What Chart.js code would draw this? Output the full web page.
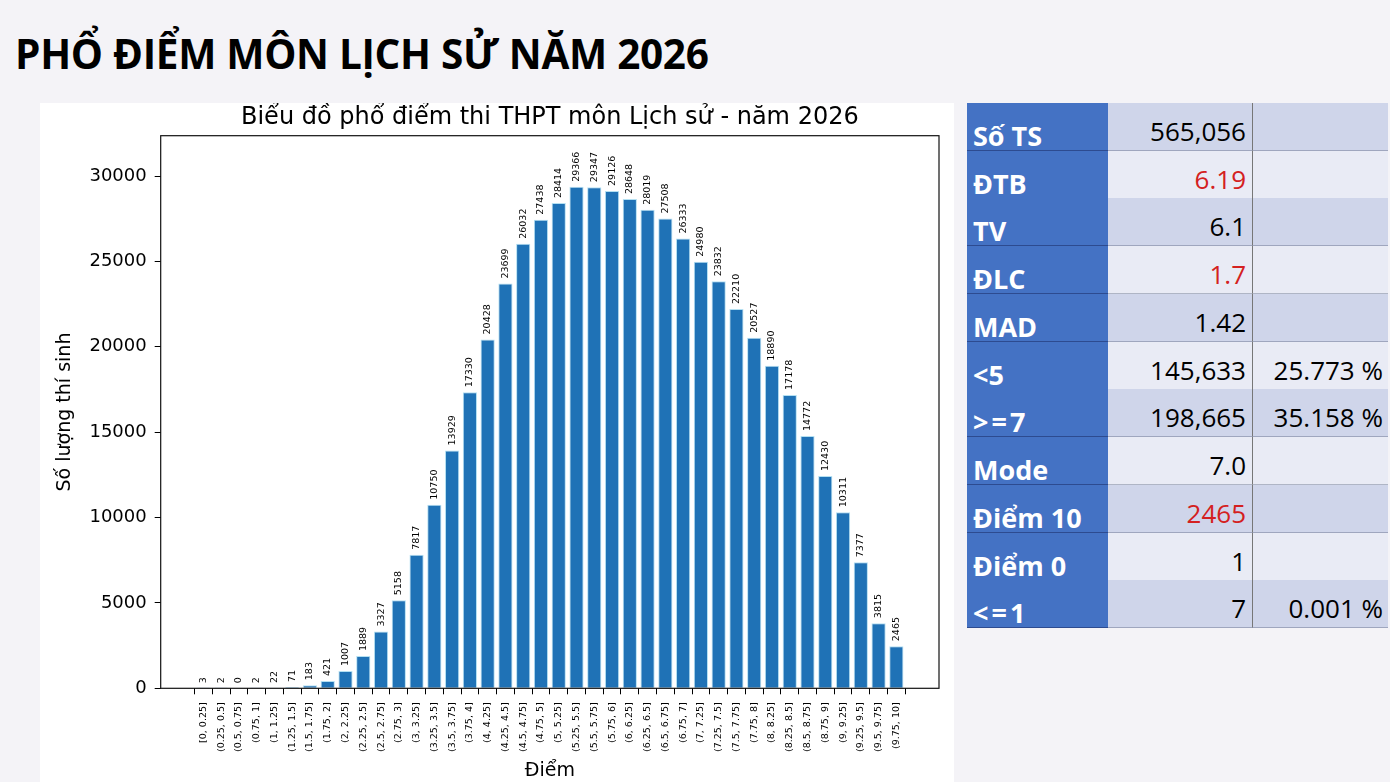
<!DOCTYPE html>
<html>
<head>
<meta charset="utf-8">
<script src="https://cdn.jsdelivr.net/npm/chart.js@4/dist/chart.umd.min.js"></script>
<style>
  html, body { margin: 0; padding: 0; }
  body { width: 1390px; height: 782px; background: #f4f3f7; position: relative; overflow: hidden; font-family: 'Open Sans', 'Noto Sans', sans-serif; }
  #pageTitle { position: absolute; left: 15px; top: 28px; font-family: 'Open Sans', sans-serif; font-weight: 700; font-size: 40.5px; line-height: 52px; color: #000; letter-spacing: -0.3px; white-space: nowrap; }
  #panel { position: absolute; left: 40px; top: 103px; width: 914px; height: 679px; background: #fff; }
  #table { position: absolute; left: 967px; top: 103px; width: 421px; }
  .row { position: absolute; left: 0; width: 421px; height: 48px; }
  .cell { position: absolute; top: 0; height: 47px; border-bottom: 1px solid rgba(70,80,110,0.35); box-sizing: content-box; white-space: nowrap; }
  .c1 { left: 0; width: 141px; background: #4472c4; color: #fff; font-weight: 700; font-size: 27px; border-bottom-color: rgba(30,50,110,0.6); }
  .c2 { left: 141px; width: 144px; border-right: 1px solid #777; font-size: 26px; color: #000; text-align: right; }
  .c3 { left: 286px; width: 135px; font-size: 26px; color: #000; text-align: right; }
  .c1 span { position: absolute; left: 6px; bottom: -4px; }
  .c1 span.sp { letter-spacing: 3px; }
  .c2 span { position: absolute; right: 6px; bottom: 1px; }
  .c3 span { position: absolute; right: 5px; bottom: 1px; }
  .dark .c2, .dark .c3 { background: #cfd5ea; }
  .light .c2, .light .c3 { background: #e9ebf5; }
</style>
</head>
<body>
<div id="pageTitle">PHỔ ĐIỂM MÔN LỊCH SỬ NĂM 2026</div>
<div id="panel"><canvas id="chart"></canvas></div>
<div id="table"></div>
<script>
// ---- data ----
const categories = ["[0, 0.25]", "(0.25, 0.5]", "(0.5, 0.75]", "(0.75, 1]", "(1, 1.25]", "(1.25, 1.5]", "(1.5, 1.75]", "(1.75, 2]", "(2, 2.25]", "(2.25, 2.5]", "(2.5, 2.75]", "(2.75, 3]", "(3, 3.25]", "(3.25, 3.5]", "(3.5, 3.75]", "(3.75, 4]", "(4, 4.25]", "(4.25, 4.5]", "(4.5, 4.75]", "(4.75, 5]", "(5, 5.25]", "(5.25, 5.5]", "(5.5, 5.75]", "(5.75, 6]", "(6, 6.25]", "(6.25, 6.5]", "(6.5, 6.75]", "(6.75, 7]", "(7, 7.25]", "(7.25, 7.5]", "(7.5, 7.75]", "(7.75, 8]", "(8, 8.25]", "(8.25, 8.5]", "(8.5, 8.75]", "(8.75, 9]", "(9, 9.25]", "(9.25, 9.5]", "(9.5, 9.75]", "(9.75, 10]"];
const counts = [3, 2, 0, 2, 22, 71, 183, 421, 1007, 1889, 3327, 5158, 7817, 10750, 13929, 17330, 20428, 23699, 26032, 27438, 28414, 29366, 29347, 29126, 28648, 28019, 27508, 26333, 24980, 23832, 22210, 20527, 18890, 17178, 14772, 12430, 10311, 7377, 3815, 2465];
const yTicks = [0, 5000, 10000, 15000, 20000, 25000, 30000];
const chartTitle = "Biểu đồ phổ điểm thi THPT môn Lịch sử - năm 2026";
const xTitle = "Điểm";
const yTitle = "Số lượng thí sinh";

const statLabels = ["Số TS", "ĐTB", "TV", "ĐLC", "MAD", "<5", ">=7", "Mode", "Điểm 10", "Điểm 0", "<=1"];
const statValues = ["565,056", "6.19", "6.1", "1.7", "1.42", "145,633", "198,665", "7.0", "2465", "1", "7"];
const statPercents = ["", "", "", "", "", "25.773 %", "35.158 %", "", "", "", "0.001 %"];
const highlighted = ["ĐTB", "ĐLC", "Điểm 10"];

// ---- table ----
const esc = s => s.replace(/&/g, '&amp;').replace(/</g, '&lt;').replace(/>/g, '&gt;');
const table = document.getElementById('table');
const rowH = 47.73;
statLabels.forEach((lab, i) => {
  const r = document.createElement('div');
  r.className = 'row ' + (i % 2 === 0 ? 'dark' : 'light');
  r.style.top = (i * rowH) + 'px';
  const red = highlighted.includes(lab);
  const spaced = lab.includes('=');
  r.innerHTML = '<div class="cell c1"><span' + (spaced ? ' class="sp"' : '') + '>' + esc(lab) + '</span></div>' +
    '<div class="cell c2"><span style="color:' + (red ? '#d42020' : '#000') + '">' + statValues[i] + '</span></div>' +
    '<div class="cell c3"><span>' + statPercents[i] + '</span></div>';
  table.appendChild(r);
});

// ---- chart ----
Chart.defaults.font.family = "'DejaVu Sans', sans-serif";
Chart.defaults.color = '#000';

const framePlugin = {
  id: 'frame',
  afterDatasetsDraw(chart) {
    const a = chart.chartArea, ctx = chart.ctx;
    ctx.save();
    ctx.strokeStyle = '#111';
    ctx.lineWidth = 1.2;
    ctx.strokeRect(a.left, a.top, a.right - a.left, a.bottom - a.top);
    ctx.restore();
  }
};
const valueLabels = {
  id: 'valueLabels',
  afterDatasetsDraw(chart) {
    const ctx = chart.ctx;
    const meta = chart.getDatasetMeta(0);
    ctx.save();
    ctx.font = "9.5px 'DejaVu Sans'";
    ctx.fillStyle = '#000';
    ctx.textAlign = 'left';
    ctx.textBaseline = 'middle';
    meta.data.forEach((el, i) => {
      ctx.save();
      ctx.translate(el.x, el.y - 5);
      ctx.rotate(-Math.PI / 2);
      ctx.fillText(String(counts[i]), 0, 0);
      ctx.restore();
    });
    ctx.restore();
  }
};

new Chart(document.getElementById('chart'), {
  type: 'bar',
  data: {
    datasets: [{
      data: counts.map((v, i) => ({ x: i, y: v })),
      backgroundColor: '#1f72b6',
      borderColor: '#b4e0f2',
      borderWidth: 1,
      barPercentage: 0.8,
      categoryPercentage: 1.0
    }]
  },
  options: {
    responsive: true,
    maintainAspectRatio: false,
    animation: false,
    layout: { padding: { left: 0, top: 0, right: 15, bottom: 0 } },
    plugins: {
      legend: { display: false },
      tooltip: { enabled: false },
      title: {
        display: true, text: chartTitle, fullSize: false,
        font: { size: 24, weight: 'normal', lineHeight: 1.2 }, color: '#000',
        padding: { top: 0, bottom: 3.9 }
      }
    },
    scales: {
      x: {
        type: 'linear', min: -2.4, max: 41.4, offset: false,
        afterBuildTicks(scale) { scale.ticks = categories.map((c, i) => ({ value: i })); },
        afterFit(scale) { scale.height = 93.7; },
        ticks: {
          autoSkip: false, minRotation: 90, maxRotation: 90, padding: 8,
          font: { size: 9.5 }, color: '#000',
          callback: (v) => categories[v]
        },
        grid: { display: true, drawOnChartArea: false, drawTicks: true, tickLength: 6, tickColor: '#000', tickWidth: 1 },
        border: { display: false },
        title: { display: true, text: xTitle, font: { size: 19 }, padding: { top: 0, bottom: 0 } }
      },
      y: {
        min: 0, max: 32360,
        afterBuildTicks(scale) { scale.ticks = yTicks.map(v => ({ value: v })); },
        afterFit(scale) { scale.width = 120.7; },
        ticks: { padding: 8, font: { size: 18 }, color: '#000', callback: (v) => String(v) },
        grid: { display: true, drawOnChartArea: false, drawTicks: true, tickLength: 6, tickColor: '#000', tickWidth: 1 },
        border: { display: false },
        title: { display: true, text: yTitle, font: { size: 19 }, padding: { top: 14, bottom: 0 } }
      }
    }
  },
  plugins: [framePlugin, valueLabels]
});
</script>
</body>
</html>
